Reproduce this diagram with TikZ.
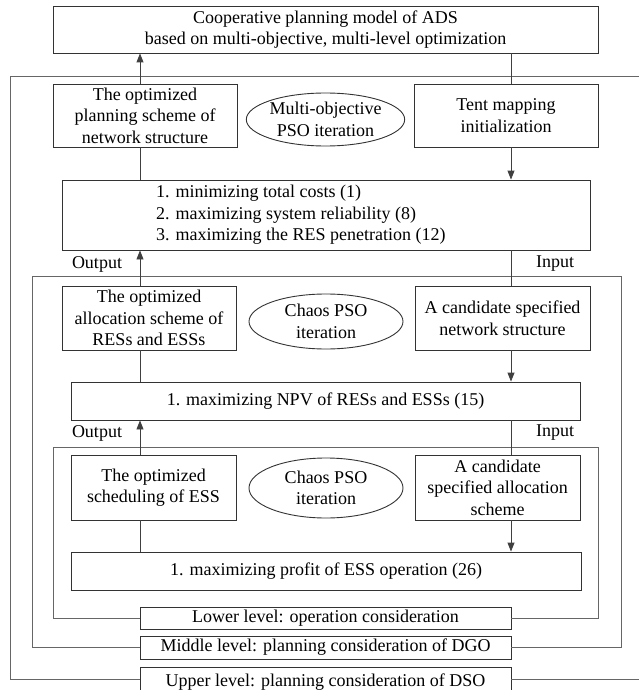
\documentclass[tikz,border=0pt]{standalone}
\usepackage{fontspec}
\setmainfont{Liberation Serif}
\usetikzlibrary{arrows.meta,shapes.geometric}
\begin{document}
\begin{tikzpicture}[x=1pt,y=-1pt,
  txt/.style={font=\fontsize{18}{21.5}\selectfont, align=center, inner sep=0pt},
  box/.style={txt, draw=black!80, line width=0.9pt, rectangle},
  oval/.style={txt, draw=black!80, line width=0.9pt, ellipse, inner sep=0pt},
  frame/.style={draw=black!60, line width=0.9pt},
  conn/.style={draw=black!75, line width=0.9pt},
  arr/.style={conn, -{Triangle[length=9pt,width=7pt]}}]
\useasboundingbox (0,0) rectangle (638,690);
\fill[white] (0,0) rectangle (638,690);
\coordinate (xL) at (140,0);
\coordinate (xR) at (511,0);
% upper level
\node[box, minimum width=545pt, minimum height=47pt] (top) at (325.5,29.5)
  {Cooperative planning model of ADS\\based on multi-objective, multi-level optimization};
\node[box, minimum width=184pt, minimum height=63pt] (net) at (145,115.5)
  {The optimized\\planning scheme of\\network structure};
\node[box, minimum width=184pt, minimum height=63pt] (tent) at (506,115.5)
  {Tent mapping\\initialization};
\node[oval, minimum width=153pt, minimum height=53pt] (ell1) at (325.5,119.5)
  {Multi-objective\\PSO iteration};
\node[box, minimum width=528pt, minimum height=70pt] (obj) at (326,215) {};
\node[txt, align=left, anchor=west] (objtxt) at (156,215)
  {1. minimizing total costs (1)\\2. maximizing system reliability (8)\\3. maximizing the RES penetration (12)};
\node[txt] (out1) at (97,264) {Output};
\node[txt] (in1) at (555,264) {Input};
% middle level
\node[box, minimum width=174pt, minimum height=64pt] (alloc) at (149,318)
  {The optimized\\allocation scheme of\\RESs and ESSs};
\node[box, minimum width=175pt, minimum height=64pt] (cand) at (502.5,318)
  {A candidate specified\\network structure};
\node[oval, minimum width=154pt, minimum height=55pt] (ell2) at (326,321.5)
  {Chaos PSO\\iteration};
\node[box, minimum width=509pt, minimum height=38pt] (npv) at (325.5,401)
  {1. maximizing NPV of RESs and ESSs (15)};
\node[txt] (out2) at (97,433) {Output};
\node[txt] (in2) at (555,433) {Input};
% lower level
\node[box, minimum width=165pt, minimum height=65pt] (sched) at (153.5,487.5)
  {The optimized\\scheduling of ESS};
\node[box, minimum width=165pt, minimum height=65pt] (calloc) at (497.5,487.5)
  {A candidate\\specified allocation\\scheme};
\node[oval, minimum width=154pt, minimum height=60pt] (ell3) at (326,488)
  {Chaos PSO\\iteration};
\node[box, minimum width=510pt, minimum height=38pt] (profit) at (326,571)
  {1. maximizing profit of ESS operation (26)};
% level boxes
\node[box, minimum width=371pt, minimum height=22pt] (lower) at (325.5,618)
  {Lower level: operation consideration};
\node[box, minimum width=371pt, minimum height=23pt] (middle) at (325.5,647.5)
  {Middle level: planning consideration of DGO};
\node[box, minimum width=371pt, minimum height=25pt, text depth=0pt] (upper) at (325.5,679.5)
  {\raisebox{-1.5pt}{Upper level: planning consideration of DSO}};
% frames
\coordinate (uf) at (10,76);
\coordinate (mf) at (32,276);
\coordinate (lf) at (53,447);
\draw[frame] (upper.west) -| (uf) -- (645,76);
\draw[frame] (upper.east) -- (645,679.5);
\draw[frame] (middle.west) -| (mf) -- (621,276) |- (middle.east);
\draw[frame] (lower.west) -| (lf) -- (598,447) |- (lower.east);
% connectors upper
\draw[arr] (xL |- net.north) -- (xL |- top.south);
\draw[conn] (xR |- top.south) -- (xR |- tent.north);
\draw[conn] (xL |- net.south) -- (xL |- obj.north);
\draw[arr] (xR |- tent.south) -- (xR |- obj.north);
% connectors middle
\draw[arr] (xL |- alloc.north) -- (xL |- obj.south);
\draw[conn] (xR |- obj.south) -- (xR |- cand.north);
\draw[conn] (xL |- alloc.south) -- (xL |- npv.north);
\draw[arr] (xR |- cand.south) -- (xR |- npv.north);
% connectors lower
\draw[arr] (xL |- sched.north) -- (xL |- npv.south);
\draw[conn] (xR |- npv.south) -- (xR |- calloc.north);
\draw[conn] (xL |- sched.south) -- (xL |- profit.north);
\draw[arr] (xR |- calloc.south) -- (xR |- profit.north);
\end{tikzpicture}
\end{document}
